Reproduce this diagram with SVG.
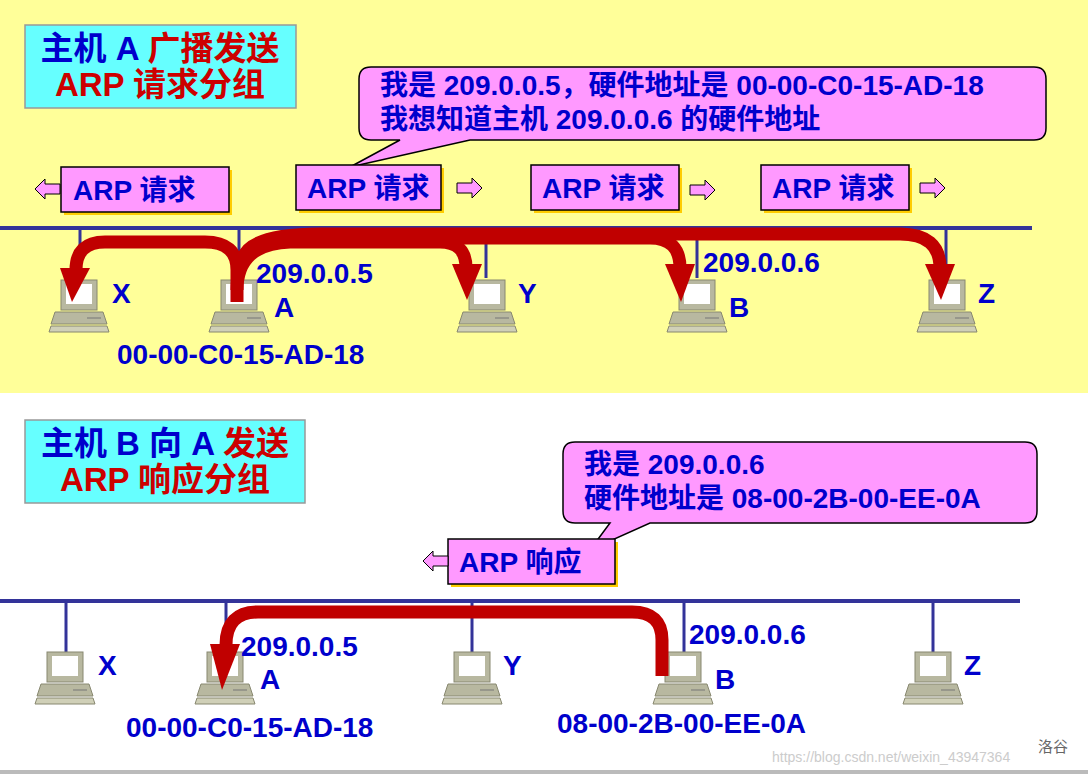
<svg xmlns="http://www.w3.org/2000/svg" width="1088" height="774" viewBox="0 0 1088 774">
<style>
text{font-family:"Liberation Sans","Noto Sans CJK SC",sans-serif;font-weight:bold}
.b{fill:#0000CC}.r{fill:#CC0000}
.t{font-size:33px}.l{font-size:28px}.m{font-size:28px}
.title{fill:#66FFFF;stroke:#999;stroke-width:1.5}
.pk{fill:#FF99FF;stroke:#000;stroke-width:1.5}
.sh{fill:#FFCC00}
.bus{stroke:#333399;stroke-width:4;fill:none}
.drop{stroke:#333399;stroke-width:3}
.red{stroke:#C00000;stroke-width:13;fill:none}
.ha{fill:#FF99FF;stroke:#000;stroke-width:1}
</style>
<defs>
<g id="pc">
<rect x="10" y="0" width="36" height="30" fill="#B8B8A0" stroke="#888870"/>
<rect x="15" y="4" width="26" height="20" fill="#fff"/>
<polygon points="4,32 52,32 56,44 0,44" fill="#B8B8A0" stroke="#888870"/>
<line x1="36" y1="38" x2="50" y2="38" stroke="#777"/>
<polygon points="0,46 56,46 58,52 -2,52" fill="#D0D0B8" stroke="#888870"/>
</g>
<polygon id="la" points="0,0 10,-10 10,-5 25,-5 25,5 10,5 10,10" class="ha"/>
<polygon id="ra" points="25,0 15,-10 15,-5 0,-5 0,5 15,5 15,10" class="ha"/>
</defs>
<rect x="0" y="0" width="1088" height="393" fill="#FFFF99"/>
<rect x="0" y="393" width="1088" height="377" fill="#fff"/>
<rect x="0" y="770" width="1088" height="4" fill="#BBBBBB"/>

<g id="title1"><rect class="title" x="25" y="25" width="271" height="83"/>
<text class="t" x="160" y="60" text-anchor="middle"><tspan class="b">主机 A </tspan><tspan class="r">广播发送</tspan></text>
<text class="t r" x="160" y="96" text-anchor="middle">ARP 请求分组</text></g>

<g id="callout1"><path class="pk" d="M371,67 H1034 Q1046,67 1046,79 V128 Q1046,140 1034,140 H470 L350,167 L400,140 H371 Q359,140 359,128 V79 Q359,67 371,67 Z"/>
<text class="l b" x="380" y="95">我是 209.0.0.5，硬件地址是 00-00-C0-15-AD-18</text>
<text class="l b" x="380" y="129">我想知道主机 209.0.0.6 的硬件地址</text></g>

<g id="req1"><rect class="sh" x="64" y="170" width="168" height="45"/><rect class="pk" x="61" y="167" width="168" height="45"/><text class="m b" x="73" y="200">ARP 请求</text><use href="#la" x="35" y="189"/></g>
<g id="req2"><rect class="sh" x="299" y="168" width="145" height="45"/><rect class="pk" x="296" y="165" width="145" height="45"/><text class="m b" x="307" y="198">ARP 请求</text><use href="#ra" x="457" y="188"/></g>
<g id="req3"><rect class="sh" x="534" y="168" width="148" height="45"/><rect class="pk" x="531" y="165" width="148" height="45"/><text class="m b" x="542" y="198">ARP 请求</text><use href="#ra" x="690" y="190"/></g>
<g id="req4"><rect class="sh" x="764" y="168" width="148" height="45"/><rect class="pk" x="761" y="165" width="148" height="45"/><text class="m b" x="772" y="198">ARP 请求</text><use href="#ra" x="920" y="188"/></g>

<g id="bus1"><line class="bus" x1="0" y1="228" x2="1032" y2="228"/>
<line class="drop" x1="80" y1="228" x2="80" y2="278"/><line class="drop" x1="239" y1="228" x2="239" y2="278"/>
<line class="drop" x1="486" y1="228" x2="486" y2="278"/><line class="drop" x1="697" y1="228" x2="697" y2="278"/>
<line class="drop" x1="946" y1="228" x2="946" y2="278"/></g>

<g id="X1"><use href="#pc" x="51" y="280"/><text class="l b" x="112" y="303">X</text></g>
<g id="A1"><use href="#pc" x="211" y="280"/><text class="l b" x="256" y="283">209.0.0.5</text><text class="l b" x="274" y="317">A</text><text class="l b" x="117" y="364">00-00-C0-15-AD-18</text></g>
<g id="Y1"><use href="#pc" x="459" y="280"/><text class="l b" x="518" y="303">Y</text></g>
<g id="B1"><use href="#pc" x="669" y="280"/><text class="l b" x="703" y="272">209.0.0.6</text><text class="l b" x="729" y="317">B</text></g>
<g id="Z1"><use href="#pc" x="919" y="280"/><text class="l b" x="978" y="303">Z</text></g>

<g id="arrows1">
<path class="red" d="M237,302 V270 Q237,242 205,242 H105 Q76,242 76,270 V272"/>
<polygon fill="#C00000" points="60,268 90,268 72,302"/>
<path class="red" d="M237,290 Q237,244 290,242 H440 Q466,242 466,268"/>
<polygon fill="#C00000" points="452,264 482,264 467,300"/>
<path class="red" d="M240,270 Q244,238 300,238 H650 Q680,238 680,268"/>
<polygon fill="#C00000" points="665,264 695,264 681,302"/>
<path class="red" d="M243,258 Q250,234 320,234 H900 Q940,234 940,268"/>
<polygon fill="#C00000" points="925,264 955,264 941,300"/>
</g>

<g id="title2"><rect class="title" x="25" y="420" width="280" height="83"/>
<text class="t" x="165" y="455" text-anchor="middle"><tspan class="b">主机 B 向 A </tspan><tspan class="r">发送</tspan></text>
<text class="t r" x="165" y="491" text-anchor="middle">ARP 响应分组</text></g>

<g id="callout2"><path class="pk" d="M575,442 H1025 Q1037,442 1037,454 V511 Q1037,523 1025,523 H650 L590,550 L610,523 H575 Q563,523 563,511 V454 Q563,442 575,442 Z"/>
<text class="l b" x="584" y="474">我是 209.0.0.6</text>
<text class="l b" x="584" y="508">硬件地址是 08-00-2B-00-EE-0A</text></g>

<g id="resp"><rect class="sh" x="451" y="542" width="167" height="45"/><rect class="pk" x="448" y="539" width="167" height="45"/><text class="m b" x="459" y="572">ARP 响应</text><use href="#la" x="423" y="561"/></g>

<g id="bus2"><line class="bus" x1="0" y1="601" x2="1020" y2="601"/>
<line class="drop" x1="66" y1="601" x2="66" y2="652"/><line class="drop" x1="226" y1="601" x2="226" y2="652"/>
<line class="drop" x1="472" y1="601" x2="472" y2="652"/><line class="drop" x1="684" y1="601" x2="684" y2="652"/>
<line class="drop" x1="933" y1="601" x2="933" y2="652"/></g>

<g id="X2"><use href="#pc" x="37" y="652"/><text class="l b" x="98" y="675">X</text></g>
<g id="A2"><use href="#pc" x="197" y="652"/><text class="l b" x="241" y="656">209.0.0.5</text><text class="l b" x="260" y="689">A</text><text class="l b" x="126" y="737">00-00-C0-15-AD-18</text></g>
<g id="Y2"><use href="#pc" x="444" y="652"/><text class="l b" x="503" y="675">Y</text></g>
<g id="B2"><use href="#pc" x="655" y="652"/><text class="l b" x="689" y="644">209.0.0.6</text><text class="l b" x="715" y="689">B</text><text class="l b" x="557" y="733">08-00-2B-00-EE-0A</text></g>
<g id="Z2"><use href="#pc" x="905" y="652"/><text class="l b" x="964" y="675">Z</text></g>

<g id="arrows2">
<path class="red" d="M662,676 V640 Q662,612 632,612 H258 Q226,612 226,645"/>
<polygon fill="#C00000" points="210,644 240,644 222,690"/>
</g>

<text x="772" y="762" font-size="14" fill="#ccc" style="font-weight:normal">https://blog.csdn.net/weixin_43947364</text>
<text x="1038" y="752" font-size="15" fill="#666" style="font-weight:normal">洛谷</text>
</svg>
